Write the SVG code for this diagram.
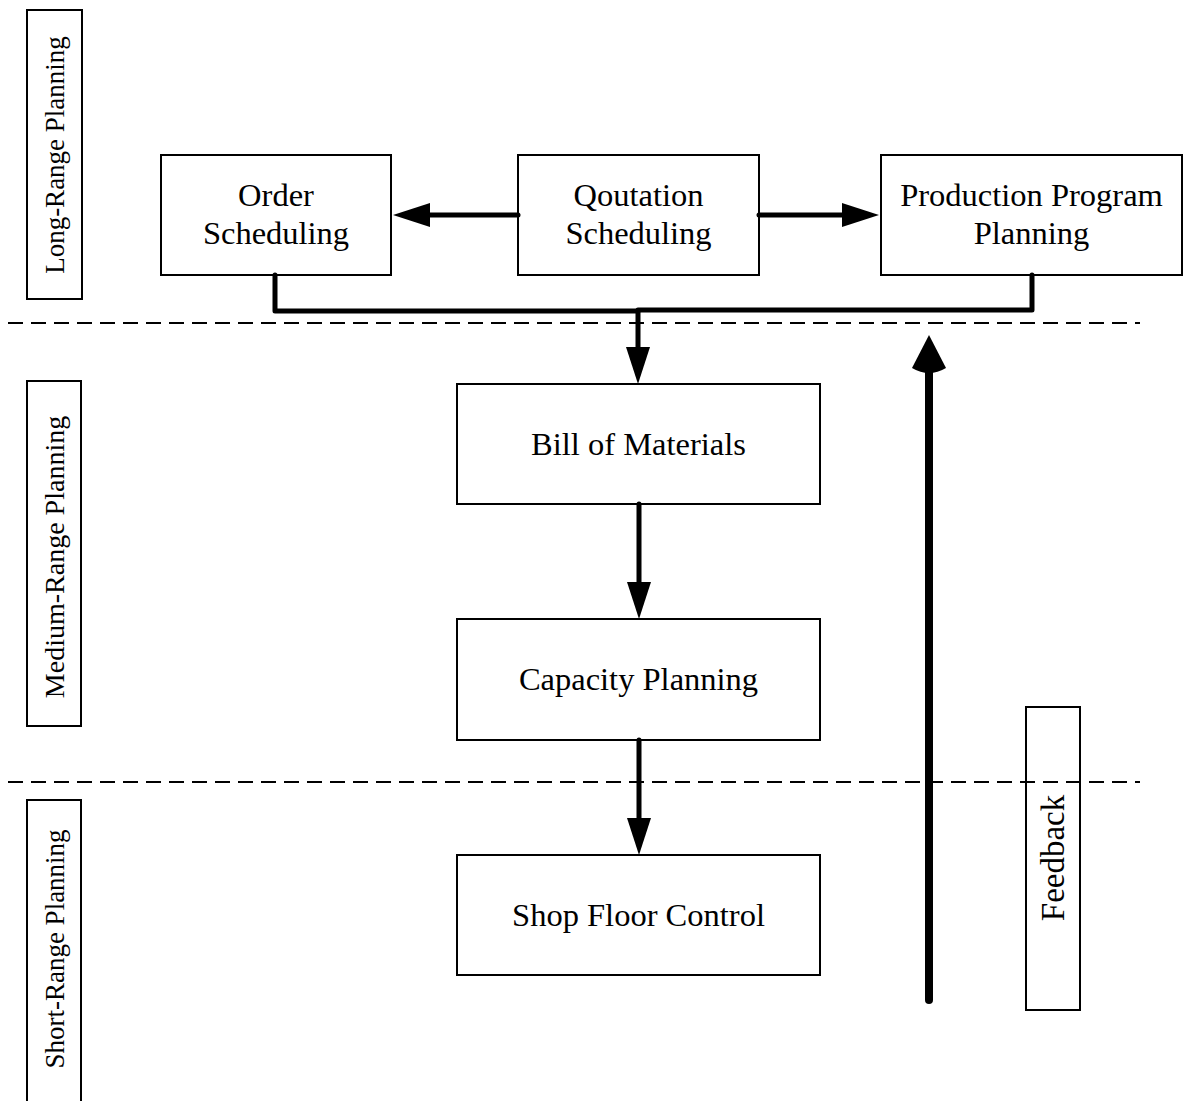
<svg xmlns="http://www.w3.org/2000/svg" width="1185" height="1101" viewBox="0 0 1185 1101">
<style>
  .box { fill: #ffffff; stroke: #000000; stroke-width: 2; }
  .open { fill: none; }
  .t { font-family: "Liberation Serif", "Times New Roman", serif; font-size: 32.5px; fill: #000000; text-anchor: middle; }
  .v { font-family: "Liberation Serif", "Times New Roman", serif; font-size: 27px; fill: #000000; text-anchor: middle; }
  .conn { fill: none; stroke: #000000; stroke-width: 5; stroke-linecap: round; stroke-linejoin: round; }
  .dash { fill: none; stroke: #000000; stroke-width: 1.8; stroke-dasharray: 15 8; }
</style>
<defs>
  <marker id="ah" markerUnits="userSpaceOnUse" markerWidth="40" markerHeight="26" refX="1" refY="12" orient="auto" overflow="visible">
    <path d="M0,0 L37,12 L0,24 Z" fill="#000000"/>
  </marker>
</defs>
<rect width="1185" height="1101" fill="#ffffff"/>

<g id="dividers">
  <line class="dash" x1="8" y1="323" x2="1140" y2="323"/>
  <line class="dash" x1="8" y1="782" x2="1140" y2="782"/>
</g>

<g id="lane-long">
  <rect class="box" x="27" y="10" width="55" height="289"/>
  <text class="v" transform="translate(64,155) rotate(-90)">Long-Range Planning</text>
</g>
<g id="lane-medium">
  <rect class="box" x="27" y="381" width="54" height="345"/>
  <text class="v" style="font-size:28px" transform="translate(64,557) rotate(-90)">Medium-Range Planning</text>
</g>
<g id="lane-short">
  <rect class="box" x="27" y="800" width="54" height="320"/>
  <text class="v" transform="translate(64,949) rotate(-90)">Short-Range Planning</text>
</g>

<g id="order-scheduling">
  <rect class="box" x="161" y="155" width="230" height="120"/>
  <text class="t" x="276" y="206">Order</text>
  <text class="t" x="276" y="244">Scheduling</text>
</g>
<g id="qoutation-scheduling">
  <rect class="box" x="518" y="155" width="241" height="120"/>
  <text class="t" x="638.5" y="206">Qoutation</text>
  <text class="t" x="638.5" y="244">Scheduling</text>
</g>
<g id="production-program-planning">
  <rect class="box" x="881" y="155" width="301" height="120"/>
  <text class="t" x="1031.5" y="206">Production Program</text>
  <text class="t" x="1031.5" y="244">Planning</text>
</g>
<g id="bill-of-materials">
  <rect class="box" x="457" y="384" width="363" height="120"/>
  <text class="t" x="638.5" y="455">Bill of Materials</text>
</g>
<g id="capacity-planning">
  <rect class="box" x="457" y="619" width="363" height="121"/>
  <text class="t" x="638.5" y="690">Capacity Planning</text>
</g>
<g id="shop-floor-control">
  <rect class="box" x="457" y="855" width="363" height="120"/>
  <text class="t" x="638.5" y="926">Shop Floor Control</text>
</g>
<g id="feedback">
  <rect class="box open" x="1026" y="707" width="54" height="303"/>
  <text class="t" style="font-size:33px" transform="translate(1064,858) rotate(-90)">Feedback</text>
</g>

<g id="connectors">
  <path class="conn" d="M518,215 H429" marker-end="url(#ah)"/>
  <path class="conn" d="M759,215 H843" marker-end="url(#ah)"/>
  <path class="conn" d="M275,275 V311 H638"/>
  <path class="conn" d="M1032,275 V310 H638"/>
  <path class="conn" d="M638,311 V348" marker-end="url(#ah)"/>
  <path class="conn" d="M639,504 V583" marker-end="url(#ah)"/>
  <path class="conn" d="M639,740 V819" marker-end="url(#ah)"/>
  <path class="conn" style="stroke-width:8" d="M929,1000 V366"/>
  <path d="M929,335 L912,368 Q929,378 946,368 Z" fill="#000000"/>
</g>
</svg>
